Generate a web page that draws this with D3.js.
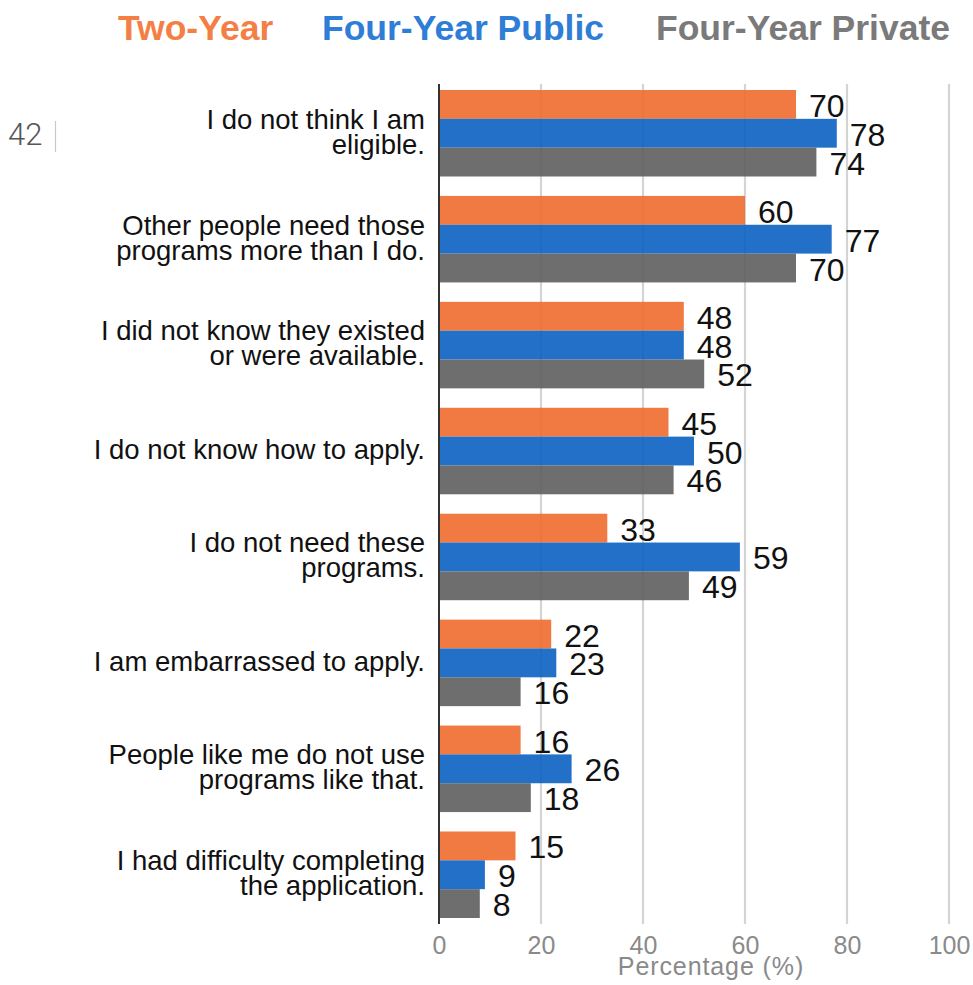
<!DOCTYPE html>
<html>
<head>
<meta charset="utf-8">
<script src="https://cdn.jsdelivr.net/npm/d3@7"></script>
<style>
  html, body { margin: 0; padding: 0; background: #fff; }
  svg { display: block; }
</style>
</head>
<body>
<svg id="chart" width="973" height="985"></svg>
<script>
// Reasons students give for not using support programs, by institution type
const categories = [
  ["I do not think I am", "eligible."],
  ["Other people need those", "programs more than I do."],
  ["I did not know they existed", "or were available."],
  ["I do not know how to apply."],
  ["I do not need these", "programs."],
  ["I am embarrassed to apply."],
  ["People like me do not use", "programs like that."],
  ["I had difficulty completing", "the application."]
];
const seriesNames = ["Two-Year", "Four-Year Public", "Four-Year Private"];
const twoYear         = [70, 60, 48, 45, 33, 22, 16, 15];
const fourYearPublic  = [78, 77, 48, 50, 59, 23, 26, 9];
const fourYearPrivate = [74, 70, 52, 46, 49, 16, 18, 8];
const xTicks = [0, 20, 40, 60, 80, 100];
const axisTitle = "Percentage (%)";
const pageNumber = "42";

const barFills   = ["#EE6B2D", "#0A61C2", "#5E5E5E"];
const legendInk  = ["#F47F45", "#2E7DD6", "#7A7A7A"];

const seriesValues = [twoYear, fourYearPublic, fourYearPrivate];
const rows = categories.map((lines, i) => ({
  key: lines.join(" "),
  lines,
  values: seriesValues.map((vals, s) => ({ series: s, value: vals[i] }))
}));

const svg = d3.select("#chart");
const plotLeft = 439, plotRight = 949, plotTop = 84, plotBottom = 924;

const x = d3.scaleLinear().domain([0, 100]).range([plotLeft, plotRight]);
const y = d3.scaleBand()
  .domain(rows.map(d => d.key))
  .range([plotTop, plotBottom])
  .paddingInner(0.1834)
  .paddingOuter(0.0566);
const ySub = d3.scaleBand()
  .domain(d3.range(seriesNames.length))
  .range([0, y.bandwidth()]);

const font = "'Liberation Sans', Arial, sans-serif";

// Page number in the margin
svg.append("text")
  .attr("x", 8).attr("y", 145)
  .attr("font-family", "Roboto, 'Open Sans', sans-serif")
  .attr("font-weight", 300)
  .attr("font-size", 31)
  .attr("fill", "#555")
  .text(pageNumber);
svg.append("line")
  .attr("x1", 55.5).attr("x2", 55.5).attr("y1", 121).attr("y2", 152)
  .attr("stroke", "#c8c8c8").attr("stroke-width", 1.2);

// Legend
const legendX = [118, 322, 656];
svg.append("g").selectAll("text")
  .data(seriesNames)
  .join("text")
  .attr("x", (d, i) => legendX[i])
  .attr("y", 40)
  .attr("font-family", font)
  .attr("font-weight", "bold")
  .attr("font-size", 35.5)
  .attr("fill", (d, i) => legendInk[i])
  .text(d => d);

// Vertical gridlines
svg.append("g").selectAll("line")
  .data(xTicks.filter(t => t > 0))
  .join("line")
  .attr("x1", d => x(d)).attr("x2", d => x(d))
  .attr("y1", plotTop).attr("y2", plotBottom)
  .attr("stroke", "#d4d4d4")
  .attr("stroke-width", 2.2);

// Bars
const groups = svg.append("g").selectAll("g")
  .data(rows)
  .join("g")
  .attr("transform", d => `translate(0,${y(d.key)})`);

groups.selectAll("rect")
  .data(d => d.values)
  .join("rect")
  .attr("x", x(0))
  .attr("y", d => ySub(d.series))
  .attr("width", d => x(d.value) - x(0))
  .attr("height", ySub.bandwidth())
  .attr("fill", d => barFills[d.series])
  .attr("fill-opacity", 0.9);

// Value labels
groups.selectAll("text.value")
  .data(d => d.values)
  .join("text")
  .attr("class", "value")
  .attr("x", d => x(d.value) + 13)
  .attr("y", d => ySub(d.series) + ySub.bandwidth() / 2 + 1)
  .attr("dy", "0.36em")
  .attr("font-family", font)
  .attr("font-size", 32)
  .attr("fill", "#111")
  .text(d => d.value);

// Category labels
const lineHeight = 25;
groups.append("text")
  .attr("text-anchor", "end")
  .attr("font-family", font)
  .attr("font-size", 27.5)
  .attr("fill", "#111")
  .each(function (d) {
    const t = d3.select(this);
    const n = d.lines.length;
    const c = y.bandwidth() / 2 - 2;
    d.lines.forEach((line, k) => {
      t.append("tspan")
        .attr("x", plotLeft - 14)
        .attr("y", c + (k - (n - 1) / 2) * lineHeight)
        .attr("dy", "0.36em")
        .text(line);
    });
  });

// Zero axis line
svg.append("line")
  .attr("x1", x(0)).attr("x2", x(0))
  .attr("y1", plotTop).attr("y2", plotBottom)
  .attr("stroke", "#333")
  .attr("stroke-width", 2);

// Bottom axis tick labels
const xAxis = svg.append("g")
  .attr("transform", `translate(0,${plotBottom})`)
  .call(d3.axisBottom(x).tickValues(xTicks).tickSize(0).tickPadding(12));
xAxis.select(".domain").remove();
xAxis.selectAll("text")
  .attr("font-family", font)
  .attr("font-size", 25)
  .attr("fill", "#8a8a8a");

// Axis title
svg.append("text")
  .attr("x", 711).attr("y", 975)
  .attr("text-anchor", "middle")
  .attr("font-family", font)
  .attr("font-size", 25)
  .attr("letter-spacing", 0.9)
  .attr("fill", "#8a8a8a")
  .text(axisTitle);
</script>
</body>
</html>
